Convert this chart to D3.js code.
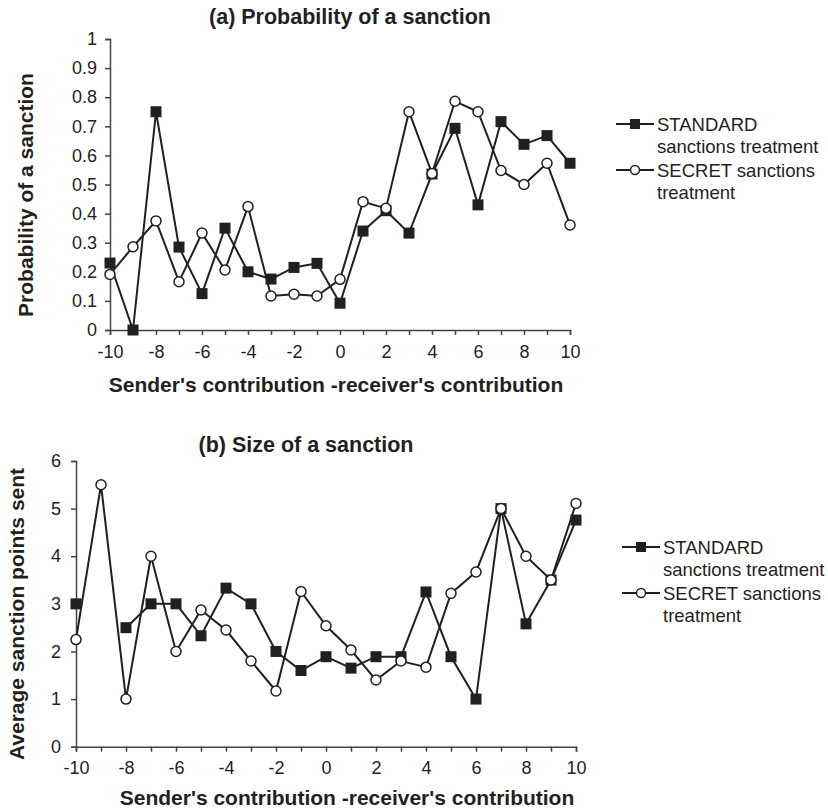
<!DOCTYPE html>
<html>
<head>
<meta charset="utf-8">
<script src="https://cdn.jsdelivr.net/npm/d3@7"></script>
<style>
  body { margin: 0; background: #fff; }
  text { font-family: Arial, "Liberation Sans", sans-serif; fill: #231f20; }
</style>
</head>
<body>
<script>
// x values shared by both panels
const diffs = d3.range(-10, 11);

// (a) probability of a sanction
const probStandard = [0.23, 0, 0.75, 0.285, 0.125, 0.35, 0.2, 0.175, 0.215, 0.229, 0.092,
                      0.34, 0.41, 0.333, 0.536, 0.693, 0.43, 0.716, 0.638, 0.668, 0.573];
const probSecret = [0.191, 0.286, 0.375, 0.166, 0.333, 0.206, 0.424, 0.117, 0.123, 0.117, 0.174,
                    0.441, 0.418, 0.75, 0.538, 0.786, 0.75, 0.548, 0.5, 0.573, 0.361];

// (b) size of a sanction (standard has no sanctions at -9)
const sizeStandard = [3, null, 2.5, 3, 3, 2.33, 3.33, 3, 2, 1.6, 1.89,
                      1.65, 1.89, 1.89, 3.25, 1.89, 1, 5, 2.58, 3.5, 4.76];
const sizeSecret = [2.25, 5.5, 1, 4, 2, 2.87, 2.45, 1.8, 1.17, 3.26, 2.54,
                    2.03, 1.4, 1.8, 1.67, 3.22, 3.67, 5, 4, 3.5, 5.11];

const xTickLabels = [-10, -8, -6, -4, -2, 0, 2, 4, 6, 8, 10];
const probTicks = [0, 0.1, 0.2, 0.3, 0.4, 0.5, 0.6, 0.7, 0.8, 0.9, 1];
const sizeTicks = [0, 1, 2, 3, 4, 5, 6];
const legendLabels = [["STANDARD", "sanctions treatment"], ["SECRET sanctions", "treatment"]];

const ink = "#231f20";

const svg = d3.select("body").append("svg")
    .attr("width", 828)
    .attr("height", 812);

function drawPanel(p) {
    const g = svg.append("g");
    const x = d3.scaleLinear().domain([-10, 10]).range([p.left, p.right]);
    const y = d3.scaleLinear().domain(p.domain).range([p.bottom, p.top]);

    // x axis: tick each unit, label every other
    const xAxis = g.append("g")
        .attr("transform", `translate(0,${p.bottom})`)
        .call(d3.axisBottom(x).tickValues(diffs).tickSize(5).tickPadding(10)
            .tickFormat(d => xTickLabels.includes(d) ? d : ""));
    const yAxis = g.append("g")
        .attr("transform", `translate(${p.left},0)`)
        .call(d3.axisLeft(y).tickValues(p.ticks).tickSize(5).tickPadding(p.yPad)
            .tickFormat(d3.format("~g")));
    [xAxis, yAxis].forEach(a => {
        a.select(".domain").attr("stroke", "#444").attr("stroke-width", 1.5);
        a.selectAll(".tick line").attr("stroke", "#444").attr("stroke-width", 1.5);
        a.selectAll("text").attr("font-size", 18).attr("fill", ink)
            .style("font-family", "Arial, 'Liberation Sans', sans-serif");
    });

    const line = d3.line()
        .defined(d => d[1] != null)
        .x(d => x(d[0]))
        .y(d => y(d[1]));

    const series = [
        {vals: p.standard, kind: "square"},
        {vals: p.secret, kind: "circle"}
    ];
    series.forEach(s => {
        const pts = diffs.map((d, i) => [d, s.vals[i]]);
        g.append("path")
            .datum(pts)
            .attr("fill", "none")
            .attr("stroke", ink)
            .attr("stroke-width", 2)
            .attr("d", line);
    });
    // standard squares first, secret circles on top
    series.forEach(s => {
        const pts = diffs.map((d, i) => [d, s.vals[i]]).filter(d => d[1] != null);
        if (s.kind === "square") {
            g.selectAll(null).data(pts).join("rect")
                .attr("x", d => x(d[0]) - 5.5)
                .attr("y", d => y(d[1]) - 5.5)
                .attr("width", 11).attr("height", 11)
                .attr("fill", ink);
        } else {
            g.selectAll(null).data(pts).join("circle")
                .attr("cx", d => x(d[0]))
                .attr("cy", d => y(d[1]))
                .attr("r", 5)
                .attr("fill", "#fff")
                .attr("stroke", ink)
                .attr("stroke-width", 1.5);
        }
    });

    // titles
    g.append("text")
        .attr("x", p.titleX).attr("y", p.titleY)
        .attr("text-anchor", "middle")
        .attr("font-size", 21.5).attr("font-weight", "bold")
        .text(p.title);
    g.append("text")
        .attr("x", p.xTitleX).attr("y", p.xTitleY)
        .attr("text-anchor", "middle")
        .attr("font-size", 21).attr("font-weight", "bold")
        .text("Sender's contribution -receiver's contribution");
    g.append("text")
        .attr("transform", `translate(${p.yTitleX},${p.yTitleY}) rotate(-90)`)
        .attr("text-anchor", "middle")
        .attr("font-size", 21).attr("font-weight", "bold")
        .text(p.yTitle);

    // legend
    const lg = g.append("g").attr("transform", `translate(${p.legX},${p.legY})`);
    legendLabels.forEach((lab, i) => {
        const row = lg.append("g").attr("transform", `translate(0,${i * 46})`);
        row.append("line")
            .attr("x1", 0).attr("x2", 38).attr("y1", 0).attr("y2", 0)
            .attr("stroke", ink).attr("stroke-width", 2);
        if (i === 0) {
            row.append("rect").attr("x", 14).attr("y", -5).attr("width", 10).attr("height", 10)
                .attr("fill", ink);
        } else {
            row.append("circle").attr("cx", 19).attr("cy", 0).attr("r", 4.5)
                .attr("fill", "#fff").attr("stroke", ink).attr("stroke-width", 1.5);
        }
        lab.forEach((t, j) => {
            row.append("text")
                .attr("x", 41).attr("y", j * 22 + 6.5)
                .attr("font-size", 18.5)
                .text(t);
        });
    });
}

drawPanel({
    left: 110, right: 570, top: 39, bottom: 330,
    domain: [0, 1], ticks: probTicks, yPad: 8,
    standard: probStandard, secret: probSecret,
    title: "(a) Probability of a sanction", titleX: 350, titleY: 24,
    xTitleX: 336, xTitleY: 392,
    yTitle: "Probability of a sanction", yTitleX: 33, yTitleY: 195,
    legX: 616, legY: 124
});

drawPanel({
    left: 76, right: 576, top: 461, bottom: 746.7,
    domain: [0, 6], ticks: sizeTicks, yPad: 10,
    standard: sizeStandard, secret: sizeSecret,
    title: "(b) Size of a sanction", titleX: 306, titleY: 452,
    xTitleX: 347, xTitleY: 805,
    yTitle: "Average sanction points sent", yTitleX: 24, yTitleY: 614,
    legX: 622, legY: 547
});
</script>
</body>
</html>
